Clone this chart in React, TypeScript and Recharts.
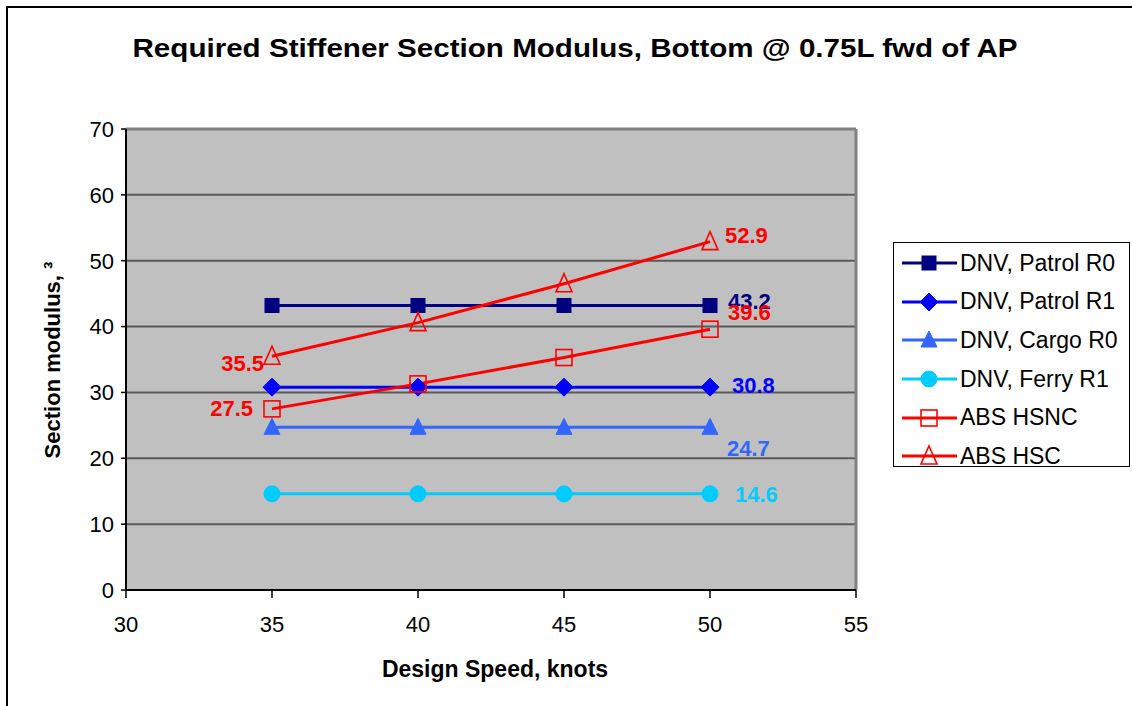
import React from 'react';
import { LineChart, Line, XAxis, YAxis, CartesianGrid, Legend, LabelList, ReferenceLine, Label } from 'recharts';

const speeds = [35, 40, 45, 50];
const patrolR0 = [43.2, 43.2, 43.2, 43.2];
const patrolR1 = [30.8, 30.8, 30.8, 30.8];
const cargoR0 = [24.7, 24.7, 24.7, 24.7];
const ferryR1 = [14.6, 14.6, 14.6, 14.6];
const absHsnc = [27.5, 31.3, 35.3, 39.6];
const absHsc = [35.5, 40.6, 46.5, 52.9];

const xTicks = [30, 35, 40, 45, 50, 55];
const yTicks = [0, 10, 20, 30, 40, 50, 60, 70];

const FONT = '"Liberation Sans", Arial, sans-serif';

type Shape = 'square' | 'diamond' | 'triangle' | 'circle';

interface SeriesDef {
  key: string;
  name: string;
  color: string;
  shape: Shape;
  filled: boolean;
  // which points get a value label, with offsets from the point
  labels: { index: number; dx: number; dy: number; anchor: 'start' | 'end' }[];
}

const series: SeriesDef[] = [
  { key: 'patrolR0', name: 'DNV, Patrol R0', color: '#000080', shape: 'square', filled: true,
    labels: [{ index: 3, dx: 18, dy: -4, anchor: 'start' }] },
  { key: 'patrolR1', name: 'DNV, Patrol R1', color: '#0000FF', shape: 'diamond', filled: true,
    labels: [{ index: 3, dx: 22, dy: -2, anchor: 'start' }] },
  { key: 'cargoR0', name: 'DNV, Cargo R0', color: '#3366FF', shape: 'triangle', filled: true,
    labels: [{ index: 3, dx: 17, dy: 21, anchor: 'start' }] },
  { key: 'ferryR1', name: 'DNV, Ferry R1', color: '#00CCFF', shape: 'circle', filled: true,
    labels: [{ index: 3, dx: 25, dy: 1, anchor: 'start' }] },
  { key: 'absHsnc', name: 'ABS HSNC', color: '#FF0000', shape: 'square', filled: false,
    labels: [{ index: 0, dx: -19, dy: 0, anchor: 'end' }, { index: 3, dx: 18, dy: -17, anchor: 'start' }] },
  { key: 'absHsc', name: 'ABS HSC', color: '#FF0000', shape: 'triangle', filled: false,
    labels: [{ index: 0, dx: -8, dy: 7, anchor: 'end' }, { index: 3, dx: 15, dy: -6, anchor: 'start' }] },
];

const data = speeds.map((speed, i) => ({
  speed,
  patrolR0: patrolR0[i],
  patrolR1: patrolR1[i],
  cargoR0: cargoR0[i],
  ferryR1: ferryR1[i],
  absHsnc: absHsnc[i],
  absHsc: absHsc[i],
}));

const Marker = ({ cx, cy, shape, filled, color }: { cx: number; cy: number; shape: Shape; filled: boolean; color: string }) => {
  const fill = filled ? color : 'none';
  const stroke = color;
  const sw = filled ? 1 : 1.6;
  if (shape === 'square') {
    const h = filled ? 7 : 8;
    return <rect x={cx - h} y={cy - h} width={h * 2} height={h * 2} fill={fill} stroke={stroke} strokeWidth={sw} />;
  }
  if (shape === 'diamond') {
    return <polygon points={`${cx},${cy - 9} ${cx + 9},${cy} ${cx},${cy + 9} ${cx - 9},${cy}`} fill={fill} stroke={stroke} strokeWidth={sw} />;
  }
  if (shape === 'triangle') {
    const top = filled ? 9 : 10;
    const bot = filled ? 7 : 8;
    return <polygon points={`${cx},${cy - top} ${cx + 8},${cy + bot} ${cx - 8},${cy + bot}`} fill={fill} stroke={stroke} strokeWidth={sw} />;
  }
  return <circle cx={cx} cy={cy} r={8} fill={fill} stroke={stroke} strokeWidth={sw} />;
};

const makeDot = (s: SeriesDef) => (props: any) => {
  const { cx, cy, index } = props;
  return <Marker key={`${s.key}-${index}`} cx={cx} cy={cy} shape={s.shape} filled={s.filled} color={s.color} />;
};

const makeLabel = (s: SeriesDef) => (props: any) => {
  const { x, y, value, index } = props;
  const l = s.labels.find((d) => d.index === index);
  if (!l) return null;
  return (
    <text
      key={`${s.key}-lbl-${index}`}
      x={x + l.dx}
      y={y + l.dy}
      textAnchor={l.anchor}
      dominantBaseline="central"
      fill={s.color}
      fontFamily={FONT}
      fontWeight="bold"
      fontSize={22}
    >
      {Number(value).toFixed(1)}
    </text>
  );
};

const LegendBox = () => (
  <div
    style={{
      width: 237,
      height: 225,
      border: '1px solid #000',
      background: '#fff',
      boxSizing: 'border-box',
      paddingTop: 1,
    }}
  >
    {series.map((s) => (
      <div key={s.key} style={{ display: 'flex', alignItems: 'center', height: 38.6 }}>
        <svg width={66} height={30} style={{ flex: 'none' }}>
          <line x1={8} y1={15} x2={63} y2={15} stroke={s.color} strokeWidth={3} />
          <Marker cx={35} cy={15} shape={s.shape} filled={s.filled} color={s.color} />
        </svg>
        <span style={{ fontFamily: FONT, fontSize: 23, color: '#000', whiteSpace: 'nowrap' }}>{s.name}</span>
      </div>
    ))}
  </div>
);

export default function App() {
  return (
    <div style={{ position: 'relative', width: 1132, height: 706, background: '#fff', overflow: 'hidden' }}>
      <style>{'body{margin:0}'}</style>
      <div
        style={{
          position: 'absolute',
          left: 6,
          top: 6,
          width: 1140,
          height: 720,
          borderLeft: '2px solid #000',
          borderTop: '2px solid #000',
        }}
      />
      <svg width={1132} height={80} style={{ position: 'absolute', left: 0, top: 0 }}>
        <text
          x={575}
          y={57}
          textAnchor="middle"
          fontFamily={FONT}
          fontWeight="bold"
          fontSize={26}
          textLength={885}
          lengthAdjust="spacingAndGlyphs"
          fill="#000"
        >
          Required Stiffener Section Modulus, Bottom @ 0.75L fwd of AP
        </text>
      </svg>
      <div style={{ position: 'absolute', left: 0, top: 0 }}>
        <LineChart width={1132} height={706} data={data} margin={{ top: 129, right: 276, bottom: 0, left: 0 }}>
          <CartesianGrid vertical={false} stroke="#5a5a5a" strokeWidth={2} fill="#C0C0C0" fillOpacity={1} />
          <ReferenceLine x={55} stroke="#808080" strokeWidth={3} />
          <ReferenceLine y={70} stroke="#808080" strokeWidth={3} />
          <XAxis
            dataKey="speed"
            type="number"
            domain={[30, 55]}
            ticks={xTicks}
            height={116}
            tickSize={8}
            tickMargin={18}
            axisLine={{ stroke: '#000', strokeWidth: 2 }}
            tickLine={{ stroke: '#000', strokeWidth: 1.5 }}
            tick={{ fill: '#000', fontSize: 22, fontFamily: FONT }}
          >
            <Label
              content={(p: any) => {
                const vb = p.viewBox;
                return (
                  <text x={vb.x + vb.width / 2 + 4} y={677} textAnchor="middle" fontFamily={FONT} fontWeight="bold" fontSize={23} fill="#000">
                    Design Speed, knots
                  </text>
                );
              }}
            />
          </XAxis>
          <YAxis
            type="number"
            domain={[0, 70]}
            ticks={yTicks}
            width={126}
            tickSize={5}
            tickMargin={7}
            axisLine={{ stroke: '#000', strokeWidth: 2 }}
            tickLine={{ stroke: '#000', strokeWidth: 1.5 }}
            tick={{ fill: '#000', fontSize: 22, fontFamily: FONT }}
          >
            <Label
              content={() => (
                <text
                  x={52}
                  y={360}
                  transform="rotate(-90 52 360)"
                  textAnchor="middle"
                  dominantBaseline="central"
                  fontFamily={FONT}
                  fontWeight="bold"
                  fontSize={22}
                  fill="#000"
                >
                  Section modulus, ³
                </text>
              )}
            />
          </YAxis>
          <Legend
            layout="horizontal"
            verticalAlign="middle"
            align="center"
            wrapperStyle={{ left: 893, top: 242, width: 237 }}
            content={() => <LegendBox />}
          />
          {series.map((s) => (
            <Line
              key={s.key}
              dataKey={s.key}
              name={s.name}
              stroke={s.color}
              strokeWidth={3}
              dot={makeDot(s)}
              activeDot={false}
              isAnimationActive={false}
            >
              <LabelList dataKey={s.key} content={makeLabel(s)} />
            </Line>
          ))}
        </LineChart>
      </div>
    </div>
  );
}
